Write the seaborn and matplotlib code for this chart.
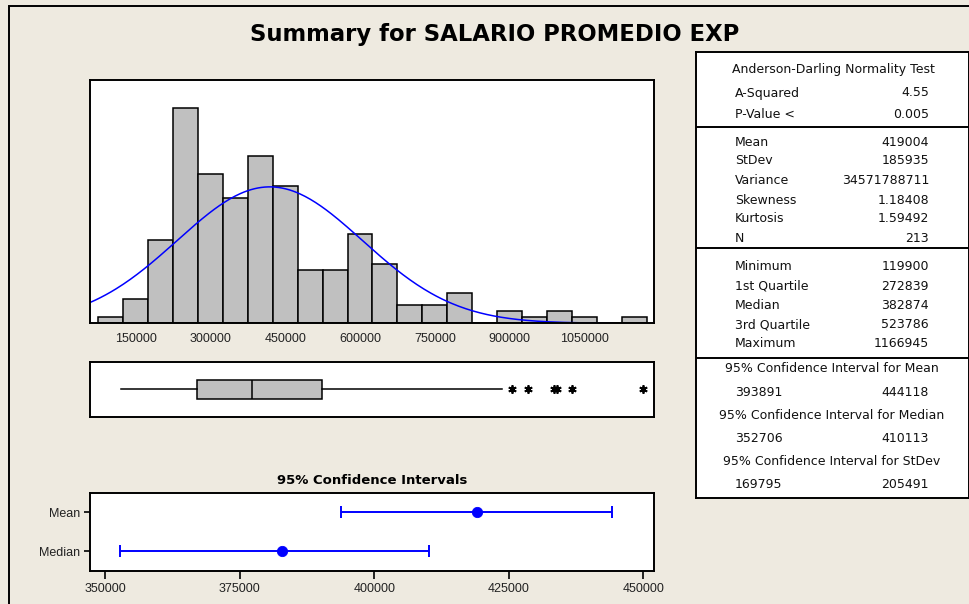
import numpy as np
import pandas as pd
import matplotlib
matplotlib.use("Agg")
import matplotlib.pyplot as plt
import seaborn as sns
from matplotlib.patches import Rectangle

# histogram: counts per 50000-wide bin, bins centred on these values
bin_centers = [100000, 150000, 200000, 250000, 300000, 350000, 400000, 450000,
               500000, 550000, 600000, 650000, 700000, 750000, 800000, 850000,
               900000, 950000, 1000000, 1050000, 1100000, 1150000]
counts = [1, 4, 14, 36, 25, 21, 28, 23, 9, 9, 15, 10, 3, 3, 5, 0, 2, 1, 2, 1, 0, 1]
hist_ticks = [150000, 300000, 450000, 600000, 750000, 900000, 1050000]

# summary stats
mean, stdev, n = 419004, 185935, 213
box_stats = dict(whislo=119900, q1=272839, med=382874, q3=523786, whishi=884000,
                 fliers=[905000, 937000, 990000, 995000, 1025000, 1166945])

# confidence intervals
ci_labels = ["Mean", "Median"]
ci_center = [419004, 382874]
ci_low = [393891, 352706]
ci_high = [444118, 410113]
ci_ticks = [350000, 375000, 400000, 425000, 450000]

# table text
ad_rows = [("A-Squared", "4.55"), ("P-Value <", "0.005")]
moment_rows = [("Mean", "419004"), ("StDev", "185935"), ("Variance", "34571788711"),
               ("Skewness", "1.18408"), ("Kurtosis", "1.59492"), ("N", "213")]
quart_rows = [("Minimum", "119900"), ("1st Quartile", "272839"), ("Median", "382874"),
              ("3rd Quartile", "523786"), ("Maximum", "1166945")]
ci_rows = [("95% Confidence Interval for Mean", "393891", "444118"),
           ("95% Confidence Interval for Median", "352706", "410113"),
           ("95% Confidence Interval for StDev", "169795", "205491")]

bg = "#EEEAE0"
W, H = 970, 604
plt.rcParams["font.family"] = ["Liberation Sans", "DejaVu Sans"]

fig = plt.figure(figsize=(9.7, 6.04), dpi=100, facecolor=bg)

def fbox(l, t, r, b):
    return [l / W, 1 - b / H, (r - l) / W, (b - t) / H]

# outer frame
fig.patches.append(Rectangle((9 / W, -0.05), 1.2, 1 - 6 / H + 0.05, transform=fig.transFigure,
                             fill=False, edgecolor="black", lw=1.4, zorder=0))

fig.text(495 / W, 1 - 34 / H, "Summary for SALARIO PROMEDIO EXP", ha="center", va="center",
         fontsize=16.4, fontweight="bold", family="DejaVu Sans")

xlim = (58300, 1190300)

# --- histogram
ax = fig.add_axes(fbox(90, 80, 654.3, 323.3))
hist_df = pd.DataFrame({"center": bin_centers, "count": counts})
sns.histplot(data=hist_df, x="center", weights="count", binwidth=50000,
             binrange=(75000, 1175000), color="#C0C0C0", edgecolor="black",
             linewidth=1.1, alpha=1, ax=ax)
xs = np.linspace(xlim[0], 1107000, 300)
ys = n * 50000 * np.exp(-0.5 * ((xs - mean) / stdev) ** 2) / (stdev * np.sqrt(2 * np.pi))
sns.lineplot(x=xs, y=ys, color="#0000FF", lw=1.1, ax=ax)
ax.set_xlim(xlim)
ax.set_ylim(0, 40.75)
ax.set_xticks(hist_ticks)
ax.set_xticklabels([str(t) for t in hist_ticks], fontsize=9, color="#222222")
ax.tick_params(axis="x", length=0, pad=7)
ax.set_yticks([])
ax.set_xlabel("")
ax.set_ylabel("")

# --- boxplot
axb = fig.add_axes(fbox(90, 361.7, 654.3, 416.7))
axb.bxp([box_stats], positions=[0], widths=0.345, orientation="horizontal",
        showcaps=False, patch_artist=True,
        boxprops=dict(facecolor="#C0C0C0", edgecolor="black", lw=1.1),
        medianprops=dict(color="black", lw=1.1),
        whiskerprops=dict(color="black", lw=1.1),
        flierprops=dict(marker=(6, 2, 0), markersize=6, markeredgecolor="black",
                        markeredgewidth=1.3, linestyle="none"))
axb.set_xlim(xlim)
axb.set_ylim(-0.5, 0.5)
axb.set_xticks([])
axb.set_yticks([])

# --- confidence intervals
axc = fig.add_axes(fbox(90, 492.7, 654.3, 570.7))
ci_df = pd.DataFrame({"label": ci_labels, "center": ci_center, "low": ci_low, "high": ci_high,
                      "pos": [0, 1]})
for i, r in ci_df.iterrows():
    axc.errorbar(r["center"], r["pos"], xerr=[[r["center"] - r["low"]], [r["high"] - r["center"]]],
                 fmt="none", ecolor="#0000FF", elinewidth=1.4, capsize=4.5, capthick=1.4)
sns.scatterplot(data=ci_df, x="center", y="pos", color="#0000FF", s=55, edgecolor="#0000FF",
                zorder=3, ax=axc)
axc.set_xlim(347150, 452040)
axc.set_ylim(1.5, -0.5)
axc.set_yticks([0, 1])
axc.set_yticklabels(ci_labels, fontsize=9, color="#222222")
axc.set_xticks(ci_ticks)
axc.set_xticklabels([str(t) for t in ci_ticks], fontsize=9, color="#222222")
axc.tick_params(axis="x", length=6, width=1.2, pad=3)
axc.tick_params(axis="y", length=4, width=1.2, pad=3)
axc.set_xlabel("")
axc.set_ylabel("")
axc.set_title("95% Confidence Intervals", fontsize=9.5, fontweight="bold", pad=6,
              family="DejaVu Sans")

for a in (ax, axb, axc):
    a.set_facecolor("white")
    for s in a.spines.values():
        s.set_color("black")
        s.set_linewidth(1.4)

# --- stats table (pixel coordinates)
axt = fig.add_axes(fbox(695.7, 52, 969, 497.7))
axt.set_xlim(695.7, 969)
axt.set_ylim(497.7, 52)
axt.set_xticks([])
axt.set_yticks([])
axt.set_facecolor("white")
for s in axt.spines.values():
    s.set_color("black")
    s.set_linewidth(1.4)

tkw = dict(fontsize=9, family="DejaVu Sans", va="center", color="#111111")
L, R = 735, 929
axt.text(833, 70, "Anderson-Darling Normality Test", ha="center", **tkw)
for (lab, val), y in zip(ad_rows, [93, 114]):
    axt.text(L, y, lab, ha="left", **tkw)
    axt.text(R, y, val, ha="right", **tkw)
axt.axhline(127, color="black", lw=1.4)
for (lab, val), y in zip(moment_rows, [143, 161, 180, 200, 219, 238.5]):
    axt.text(L, y, lab, ha="left", **tkw)
    axt.text(R, y, val, ha="right", **tkw)
axt.axhline(248.3, color="black", lw=1.4)
for (lab, val), y in zip(quart_rows, [266.5, 286, 305.5, 324.5, 343.5]):
    axt.text(L, y, lab, ha="left", **tkw)
    axt.text(R, y, val, ha="right", **tkw)
axt.axhline(358.3, color="black", lw=1.4)
for (head, lo, hi), y in zip(ci_rows, [368.5, 415.5, 461.5]):
    axt.text(832, y, head, ha="center", **tkw)
    axt.text(L, y + 23.5, lo, ha="left", **tkw)
    axt.text(R, y + 23.5, hi, ha="right", **tkw)

fig.savefig("out.png", dpi=100, facecolor=bg)
